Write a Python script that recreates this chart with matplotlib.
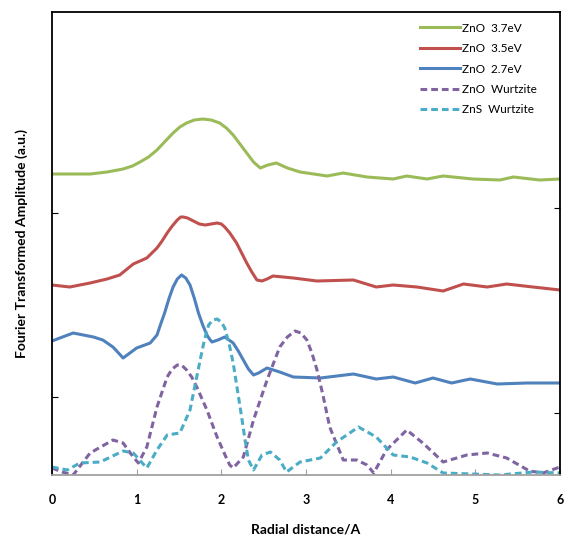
import matplotlib.pyplot as plt

# ZnO 3.7eV
x_g = [0, 0.45, 0.65, 0.84, 0.95, 1.04, 1.14, 1.24, 1.34, 1.43, 1.51, 1.59, 1.68, 1.78,
       1.88, 1.98, 2.06, 2.14, 2.22, 2.30, 2.38, 2.46, 2.55, 2.65, 2.78, 2.93, 3.25, 3.44,
       3.72, 4.03, 4.19, 4.43, 4.62, 4.97, 5.29, 5.45, 5.76, 6.00]
y_g = [3.01, 3.01, 3.03, 3.06, 3.09, 3.13, 3.18, 3.25, 3.34, 3.42, 3.48, 3.52, 3.55, 3.56,
       3.55, 3.52, 3.47, 3.40, 3.31, 3.22, 3.13, 3.07, 3.10, 3.12, 3.07, 3.03, 2.99, 3.02,
       2.98, 2.96, 2.99, 2.96, 2.99, 2.96, 2.95, 2.98, 2.95, 2.96]

# ZnO 3.5eV
x_r = [0, 0.21, 0.45, 0.65, 0.80, 0.96, 1.12, 1.24, 1.30, 1.36, 1.42, 1.48, 1.52, 1.55,
       1.60, 1.67, 1.74, 1.81, 1.88, 1.95, 2.00, 2.04, 2.10, 2.18, 2.24, 2.30, 2.36, 2.42,
       2.48, 2.54, 2.61, 2.85, 3.13, 3.56, 3.83, 4.03, 4.31, 4.62, 4.86, 5.14, 5.37, 5.68,
       6.00]
y_r = [1.90, 1.88, 1.92, 1.96, 2.00, 2.11, 2.17, 2.27, 2.34, 2.42, 2.49, 2.55, 2.58, 2.58,
       2.57, 2.54, 2.51, 2.50, 2.51, 2.52, 2.51, 2.48, 2.42, 2.32, 2.22, 2.12, 2.03, 1.95,
       1.94, 1.96, 1.99, 1.97, 1.94, 1.95, 1.88, 1.90, 1.88, 1.84, 1.91, 1.88, 1.91, 1.88,
       1.85]

# ZnO 2.7eV
x_b = [0, 0.25, 0.49, 0.60, 0.72, 0.84, 1.00, 1.16, 1.24, 1.28, 1.33, 1.38, 1.43, 1.48,
       1.53, 1.58, 1.63, 1.68, 1.73, 1.78, 1.83, 1.86, 1.89, 1.96, 2.04, 2.14, 2.20, 2.26,
       2.32, 2.38, 2.44, 2.54, 2.69, 2.85, 3.17, 3.56, 3.83, 4.03, 4.29, 4.50, 4.72, 4.94,
       5.26, 5.61, 6.00]
y_b = [1.34, 1.42, 1.38, 1.35, 1.28, 1.17, 1.27, 1.32, 1.40, 1.50, 1.62, 1.76, 1.88, 1.96,
       2.00, 1.97, 1.90, 1.77, 1.62, 1.50, 1.40, 1.36, 1.33, 1.35, 1.38, 1.32, 1.24, 1.15,
       1.06, 1.00, 1.02, 1.07, 1.03, 0.98, 0.97, 1.01, 0.96, 0.98, 0.92, 0.97, 0.92, 0.96,
       0.91, 0.92, 0.92]

# ZnO Wurtzite
x_p = [0, 0.12, 0.25, 0.45, 0.72, 0.84, 0.96, 1.02, 1.12, 1.24, 1.36, 1.42, 1.48, 1.53,
       1.59, 1.65, 1.71, 1.83, 1.95, 2.07, 2.10, 2.14, 2.26, 2.38, 2.54, 2.69, 2.78, 2.87,
       2.94, 3.01, 3.07, 3.13, 3.20, 3.28, 3.44, 3.60, 3.72, 3.80, 3.95, 4.19, 4.38, 4.62,
       4.90, 5.14, 5.37, 5.64, 5.80, 6.00]
y_p = [0.07, 0.03, 0.00, 0.22, 0.35, 0.32, 0.18, 0.12, 0.28, 0.68, 0.98, 1.06, 1.10, 1.10,
       1.05, 0.98, 0.88, 0.65, 0.38, 0.15, 0.10, 0.07, 0.18, 0.55, 0.95, 1.28, 1.38, 1.44,
       1.42, 1.35, 1.22, 1.05, 0.80, 0.48, 0.15, 0.15, 0.10, 0.02, 0.25, 0.45, 0.32, 0.13,
       0.20, 0.22, 0.17, 0.04, 0.02, 0.08]

# ZnS Wurtzite
x_c = [0, 0.18, 0.33, 0.57, 0.84, 0.96, 1.12, 1.24, 1.36, 1.51, 1.63, 1.75, 1.80, 1.85,
       1.90, 1.95, 2.00, 2.04, 2.09, 2.14, 2.19, 2.24, 2.28, 2.32, 2.38, 2.48, 2.58, 2.69,
       2.77, 2.93, 3.17, 3.36, 3.62, 3.83, 4.03, 4.23, 4.43, 4.62, 4.97, 5.29, 5.68, 6.00]
y_c = [0.08, 0.05, 0.12, 0.13, 0.24, 0.22, 0.07, 0.25, 0.40, 0.42, 0.65, 1.15, 1.35, 1.50,
       1.55, 1.56, 1.53, 1.47, 1.32, 1.12, 0.85, 0.58, 0.35, 0.15, 0.05, 0.20, 0.23, 0.15,
       0.03, 0.13, 0.17, 0.33, 0.48, 0.38, 0.20, 0.18, 0.12, 0.02, 0.01, 0.00, 0.03, 0.02]

labels = ["ZnO  3.7eV", "ZnO  3.5eV", "ZnO  2.7eV", "ZnO  Wurtzite", "ZnS  Wurtzite"]
x_ticks = [0, 1, 2, 3, 4, 5, 6]

plt.rcParams['font.family'] = ['Lato', 'DejaVu Sans']

fig = plt.figure(figsize=(5.65, 5.38), dpi=100)
ax = fig.add_axes([52 / 565, 63 / 538, 508 / 565, 463 / 538])

lw = 2.2
ax.plot(x_g, y_g, color='#9BBB59', lw=lw, label=labels[0], solid_joinstyle='round')
ax.plot(x_r, y_r, color='#C0504D', lw=lw, label=labels[1], solid_joinstyle='round')
ax.plot(x_b, y_b, color='#4F81BD', lw=lw, label=labels[2], solid_joinstyle='round')
ax.plot(x_p, y_p, color='#8064A2', lw=lw, ls=(0, (2.2, 1.3)), label=labels[3],
        dash_joinstyle='round')
ax.plot(x_c, y_c, color='#4BACC6', lw=lw, ls=(0, (2.2, 1.3)), label=labels[4],
        dash_joinstyle='round')

ax.set_xlim(0, 6)
ax.set_ylim(0, 4.63)
ax.set_xticks(x_ticks)
ax.set_xticklabels([str(t) for t in x_ticks], fontweight='bold', fontsize=9)
ax.set_yticks([0.78, 2.62])
ax.set_yticklabels([])
ax.tick_params(axis='x', direction='in', length=4, color='#a0a0a0', pad=14)
ax.tick_params(axis='y', direction='in', length=4, color='black')

for s in ['left', 'top', 'right']:
    ax.spines[s].set_color('black')
    ax.spines[s].set_linewidth(1.3)
ax.spines['bottom'].set_color('#a0a0a0')
ax.spines['bottom'].set_linewidth(1.3)

ax2 = ax.twinx()
ax2.set_ylim(0, 4.63)
ax2.set_yticks([0.62, 2.67])
ax2.set_yticklabels([])
ax2.tick_params(axis='y', direction='in', length=4, color='black')
for s in ax2.spines.values():
    s.set_visible(False)

ax.set_xlabel("Radial distance/A", fontweight='bold', fontsize=10, labelpad=12)
ax.set_ylabel("Fourier Transformed Amplitude (a.u.)", fontweight='bold', fontsize=10,
              labelpad=14)

ax.legend(loc='upper right', bbox_to_anchor=(0.975, 1.0), frameon=False, fontsize=8.5,
          handlelength=3.4, handletextpad=0.15, labelspacing=0.8)

fig.savefig('out.png', dpi=100)
